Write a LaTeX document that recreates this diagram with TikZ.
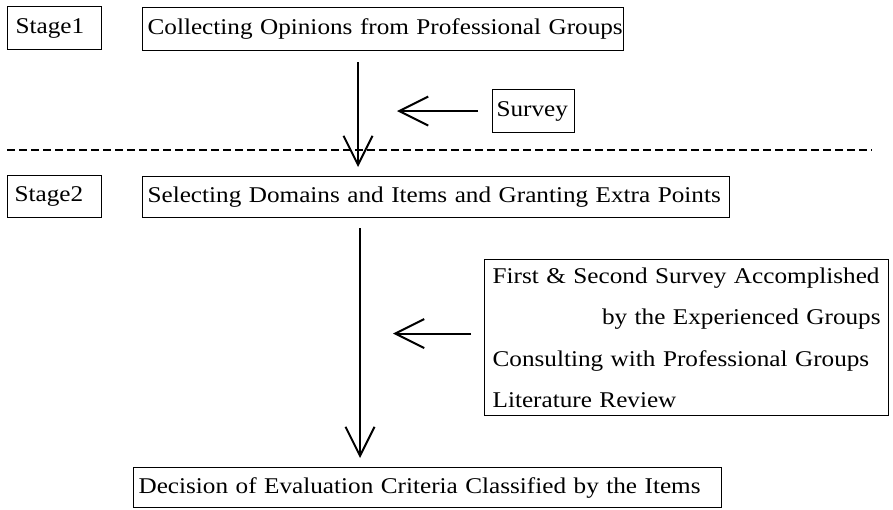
\documentclass[tikz,border=0pt]{standalone}
\usepackage{fontspec}
\setmainfont{Liberation Serif}[FakeStretch=1.12]
\usetikzlibrary{arrows.meta}
\begin{document}
\begin{tikzpicture}[x=1pt,y=-1pt,
  bx/.style={draw, line width=1.2pt, anchor=north west, inner xsep=5pt, inner ysep=0pt,
             align=left, font=\fontsize{22.5}{41.5}\selectfont},
  arr/.style={line width=2pt, -{Straight Barb[length=29pt,width=29pt]}},
  sep/.style={line width=1.1pt, dash pattern=on 8pt off 4pt}]
\useasboundingbox (0,0) rectangle (893,509);

\coordinate (ax1) at (358,0);
\coordinate (ax2) at (360,0);
\coordinate (dl) at (7,150);
\coordinate (dr) at (872,150);

\node[bx, inner xsep=8pt, text width=78pt,  minimum height=43pt] (s1) at (7,6)   {\mbox{Stage1}};
\node[bx, text width=471pt, minimum height=43pt] (b1) at (142,7) {\mbox{Collecting Opinions from Professional Groups}};
\node[bx, inner xsep=4pt, text width=74pt,  minimum height=43pt] (sv) at (492,89) {\mbox{Survey}};
\node[bx, inner xsep=7pt, text width=80pt,  minimum height=42pt] (s2) at (7,175) {\mbox{Stage2}};
\node[bx, text width=577pt, minimum height=41pt] (b2) at (142,176) {\mbox{Selecting Domains and Items and Granting Extra Points}};
\node[bx, inner xsep=8pt, text width=388pt, minimum height=156pt] (b3) at (484,259)
  {\mbox{First \& Second Survey Accomplished}\\
   \hspace*{\fill}\mbox{by the Experienced Groups}\\
   \mbox{Consulting with Professional Groups}\\
   \mbox{Literature Review}};
\node[bx, text width=578pt, minimum height=40pt] (b4) at (133,467) {\mbox{Decision of Evaluation Criteria Classified by the Items}};

\draw[sep] (dl) -- (dr);

\draw[arr, shorten <=11pt, shorten >=9pt] (b1.south -| ax1) -- (b2.north -| ax1);
\draw[arr, shorten <=14pt, shorten >=39pt] (sv.west) -- (sv.west -| ax1);
\draw[arr, shorten <=10pt, shorten >=9pt] (b2.south -| ax2) -- (b4.north -| ax2);
\draw[arr, shorten <=13pt, shorten >=33pt] ([yshift=4pt]b3.west) -- ([yshift=4pt]b3.west -| ax2);
\end{tikzpicture}
\end{document}
